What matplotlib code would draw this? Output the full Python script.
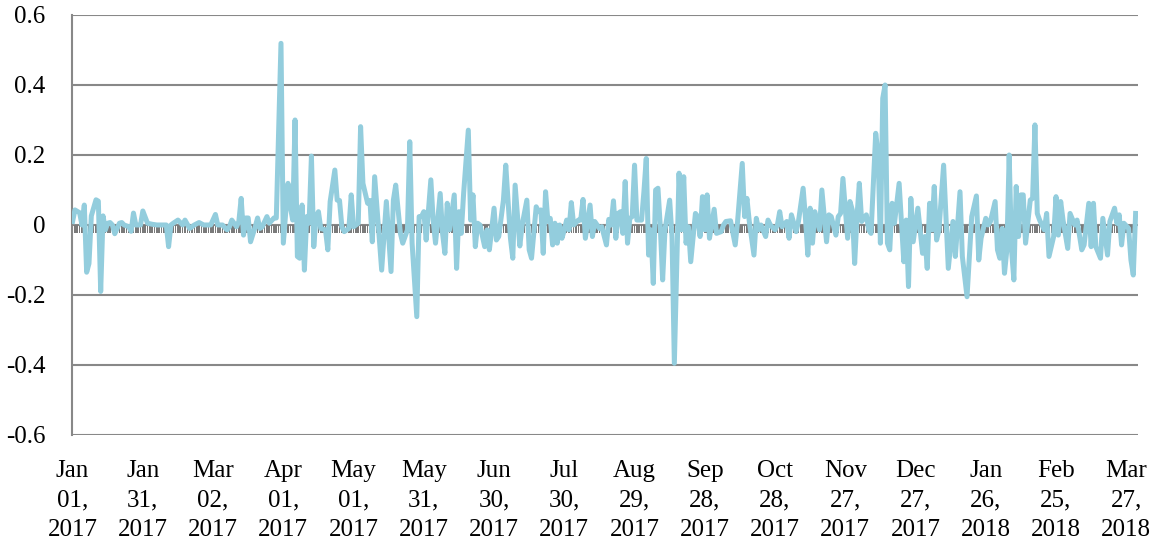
import numpy as np
import pandas as pd
import matplotlib
matplotlib.use('Agg')
import matplotlib.pyplot as plt

plt.rcParams['font.family'] = ['Liberation Serif', 'DejaVu Serif']

start = pd.Timestamp('2017-01-01')
last_day = pd.Timestamp('2018-03-31')

# line vertices: days since Jan 01 2017 and value
day_offsets = [
    0, 1, 3, 4, 5, 6, 7, 8, 10, 11, 12, 13, 14, 15, 16, 17, 18, 20, 21, 22,
    24, 25, 26, 27, 29, 30, 32, 34, 36, 38, 40, 41, 42, 43, 45, 47, 48, 50, 52, 54,
    56, 59, 61, 62, 64, 66, 67, 68, 70, 71, 72, 73, 74, 75, 76, 78, 79, 80, 81, 83,
    84, 86, 87, 89, 90, 92, 93, 94, 95, 96, 97, 98, 99, 100, 101, 102, 103, 104, 105, 106,
    108, 109, 110, 112, 113, 114, 115, 116, 118, 119, 120, 122, 123, 124, 126, 127, 128, 129, 132, 134,
    136, 137, 138, 140, 141, 143, 144, 145, 147, 148, 149, 150, 151, 153, 154, 155, 157, 158, 159, 160,
    161, 163, 164, 165, 166, 167, 169, 170, 171, 172, 173, 174, 176, 177, 178, 180, 181, 182, 184, 185,
    187, 188, 189, 191, 192, 194, 195, 196, 198, 199, 200, 201, 202, 203, 204, 205, 206, 207, 208, 209,
    210, 211, 212, 213, 214, 216, 217, 218, 219, 221, 222, 223, 225, 226, 228, 229, 230, 231, 232, 233,
    234, 235, 236, 237, 238, 239, 240, 241, 243, 244, 245, 246, 247, 248, 249, 250, 251, 252, 253, 255,
    256, 257, 259, 260, 261, 262, 263, 264, 266, 267, 268, 269, 270, 271, 272, 274, 275, 277, 278, 279,
    281, 283, 284, 286, 287, 288, 289, 291, 292, 293, 294, 296, 297, 298, 300, 301, 302, 303, 305, 306,
    307, 309, 310, 312, 313, 314, 315, 316, 317, 319, 320, 322, 323, 324, 326, 327, 328, 329, 331, 332,
    333, 334, 335, 336, 337, 339, 340, 341, 343, 344, 345, 346, 347, 348, 349, 350, 351, 353, 355, 356,
    357, 358, 359, 361, 363, 364, 365, 366, 367, 368, 369, 370, 372, 374, 376, 377, 379, 380, 382, 384,
    386, 387, 388, 390, 391, 392, 394, 395, 396, 397, 398, 399, 400, 401, 402, 403, 404, 405, 406, 407,
    409, 410, 411, 412, 413, 415, 416, 417, 419, 420, 421, 422, 423, 425, 426, 428, 429, 431, 432, 434,
    435, 436, 437, 439, 440, 442, 443, 445, 446, 447, 448, 449, 451, 452, 453, 454,
]
returns = [
    0.01, 0.043, 0.035, 0.0, 0.057, -0.135, -0.11, 0.026, 0.072, 0.068, -0.19, 0.026, -0.014, 0.005, 0.007, 0.0, -0.025, 0.005, 0.007, 0.0,
    -0.005, -0.018, 0.034, 0.0, 0.0, 0.04, 0.005, 0.002, 0.0, 0.0, 0.0, -0.062, 0.0, 0.005, 0.014, 0.0, 0.014, -0.01, 0.0, 0.007,
    0.0, 0.0, 0.03, 0.0, 0.0, -0.014, -0.005, 0.014, -0.005, 0.01, 0.076, -0.029, 0.02, 0.02, -0.048, -0.005, 0.02, -0.01, -0.005, 0.024,
    0.005, 0.02, 0.02, 0.519, -0.052, 0.119, 0.052, 0.014, 0.30, -0.09, -0.095, 0.057, -0.129, 0.024, 0.005, 0.197, -0.062, 0.024, 0.038, -0.01,
    -0.014, -0.071, 0.067, 0.157, 0.071, 0.07, -0.005, -0.019, -0.01, 0.086, -0.005, 0.005, 0.281, 0.119, 0.062, 0.07, -0.048, 0.138, -0.129, 0.067,
    -0.133, 0.071, 0.114, -0.024, -0.052, -0.014, 0.238, -0.052, -0.262, 0.024, 0.024, 0.038, -0.043, 0.129, 0.014, -0.052, 0.09, -0.024, -0.081, 0.062,
    -0.014, 0.086, -0.124, 0.038, -0.024, 0.09, 0.271, 0.014, 0.086, -0.062, 0.005, 0.0, -0.062, -0.014, -0.071, 0.048, -0.043, -0.033, 0.071, 0.171,
    -0.038, -0.095, 0.114, -0.06, 0.0, 0.071, -0.071, -0.095, 0.052, 0.038, 0.043, -0.081, 0.095, 0.01, 0.019, -0.057, 0.005, -0.052, 0.0, -0.038,
    -0.014, 0.014, -0.014, 0.064, 0.0, 0.014, 0.014, 0.073, -0.038, 0.057, -0.033, 0.01, -0.01, -0.005, -0.057, 0.016, 0.0, 0.069, -0.038, 0.033,
    0.038, -0.024, 0.124, -0.052, 0.019, 0.024, 0.171, 0.014, 0.014, 0.095, 0.19, -0.086, -0.014, -0.167, 0.1, 0.105, -0.005, -0.157, -0.014, 0.071,
    -0.033, -0.395, 0.148, -0.014, 0.138, -0.052, -0.005, -0.105, 0.033, 0.024, -0.033, 0.081, -0.014, 0.086, -0.038, 0.045, -0.024, -0.019, 0.0, 0.01,
    0.012, -0.057, 0.01, 0.176, 0.024, 0.076, 0.01, -0.086, 0.019, -0.014, 0.0, -0.033, 0.014, 0.0, -0.014, 0.0, 0.038, -0.005, 0.01, -0.038,
    0.029, -0.019, 0.01, 0.105, 0.019, -0.086, 0.048, -0.052, 0.038, -0.014, 0.1, -0.048, 0.029, 0.024, -0.029, 0.024, 0.033, 0.133, -0.038, 0.067,
    0.043, -0.11, 0.024, 0.119, 0.01, 0.029, -0.014, -0.024, 0.262, 0.205, -0.052, 0.362, 0.40, -0.052, -0.071, 0.062, 0.005, 0.119, -0.105, 0.014,
    -0.176, 0.076, -0.048, 0.048, -0.081, -0.033, -0.124, 0.062, -0.014, 0.11, -0.043, -0.014, 0.171, -0.124, 0.01, -0.09, 0.095, -0.09, -0.205, 0.024,
    0.083, -0.1, -0.038, 0.019, 0.0, 0.01, 0.067, -0.071, -0.095, -0.01, -0.138, -0.071, 0.2, -0.071, -0.157, 0.11, -0.033, 0.086, 0.086, -0.052,
    0.071, 0.076, 0.286, 0.033, 0.014, -0.014, 0.033, -0.09, -0.033, 0.081, -0.029, 0.067, 0.014, -0.067, 0.033, 0.0, 0.014, -0.071, -0.057, 0.062,
    -0.062, 0.062, -0.062, -0.095, 0.019, -0.086, 0.01, 0.048, 0.005, 0.029, -0.057, 0.005, -0.01, -0.1, -0.143, 0.033,
]

# small gray bars hanging below zero, one per day, all about the same depth
bar_depth = -0.024

y_ticks = [-0.6, -0.4, -0.2, 0, 0.2, 0.4, 0.6]

dates = start + pd.to_timedelta(day_offsets, unit='D')
all_days = pd.date_range(start, last_day, freq='D')
tick_dates = pd.date_range(start, periods=16, freq='30D')

fig = plt.figure(figsize=(11.54, 5.49), dpi=100)
ax = fig.add_axes([0.0624, 0.2077, 0.9237, 0.765])

ax.bar(all_days, np.full(len(all_days), bar_depth), width=0.7,
       color='#7a7a7a', zorder=2)
ax.plot(dates, returns, color='#93cddd', lw=3.6, zorder=3,
        solid_joinstyle='round')

ax.set_ylim(-0.6, 0.6)
ax.set_xlim(start - pd.Timedelta(hours=6), pd.Timestamp('2018-04-01'))
ax.set_yticks(y_ticks)
ax.set_yticklabels(['0' if v == 0 else f'{v:.1f}' for v in y_ticks])
ax.set_xticks(tick_dates)
ax.set_xticklabels([d.strftime('%b\n%d,\n%Y') for d in tick_dates],
                   linespacing=1.45)

ax.yaxis.grid(True, color='#888888', lw=1.5)
ax.set_axisbelow(True)
for side in ['top', 'right', 'bottom']:
    ax.spines[side].set_visible(False)
ax.spines['left'].set_color('#888888')
ax.spines['left'].set_linewidth(1.5)
ax.tick_params(axis='both', length=0, labelsize=18, colors='black')
ax.tick_params(axis='x', pad=18)
ax.tick_params(axis='y', pad=19)

fig.savefig('out.png', dpi=100)
